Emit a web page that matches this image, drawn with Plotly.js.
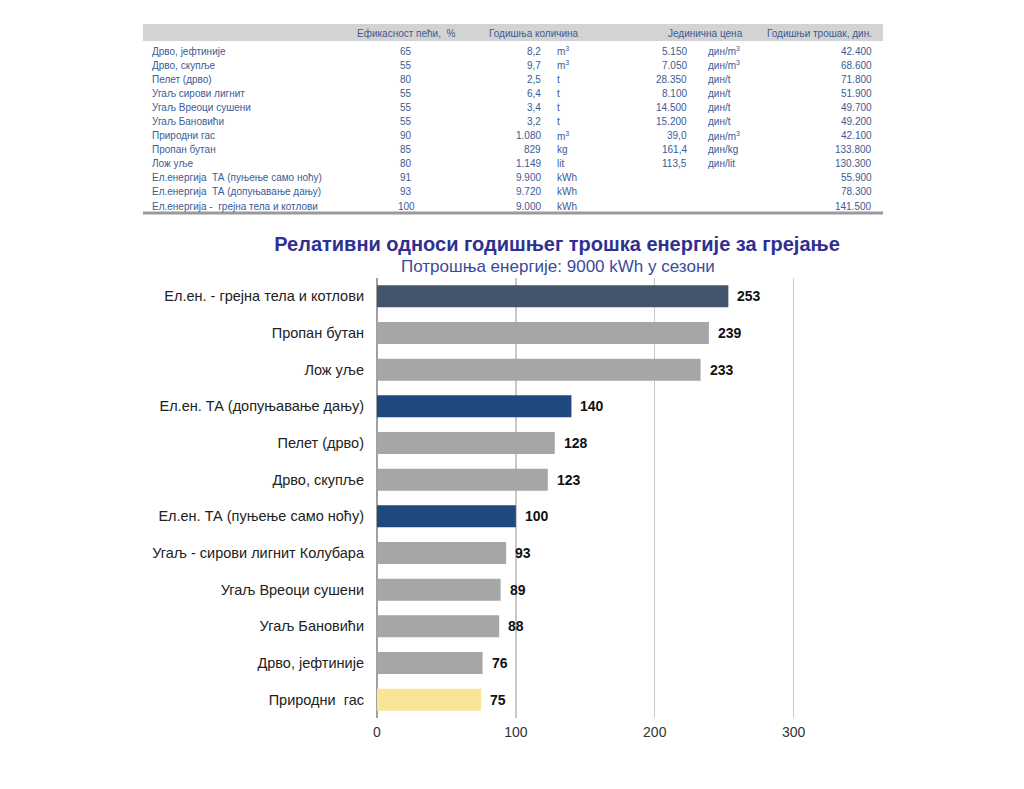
<!DOCTYPE html>
<html>
<head>
<meta charset="utf-8">
<script src="https://cdn.plot.ly/plotly-3.0.1.min.js"></script>
<style>html,body{margin:0;padding:0;background:#fff;}#chart{width:1024px;height:789px;}</style>
</head>
<body>
<div id="chart"></div>
<script>
// ---------- table data ----------
const tableHeaders = ['Ефикасност пећи,  %', 'Годишња количина', 'Јединична цена', 'Годишњи трошак, дин.'];
const tableNames = ['Дрво, јефтиније','Дрво, скупље','Пелет (дрво)','Угаљ сирови лигнит','Угаљ Вреоци сушени','Угаљ Бановићи','Природни гас','Пропан бутан','Лож уље','Ел.енергија  ТА (пуњење само ноћу)','Ел.енергија  ТА (допуњавање дању)','Ел.енергија -  грејна тела и котлови'];
const tableEff = [65,55,80,55,55,55,90,85,80,91,93,100];
const tableQty = ['8,2','9,7','2,5','6,4','3,4','3,2','1.080','829','1.149','9.900','9.720','9.000'];
const tableQtyUnit = ['m<sup>3</sup>','m<sup>3</sup>','t','t','t','t','m<sup>3</sup>','kg','lit','kWh','kWh','kWh'];
const tablePrice = ['5.150','7.050','28.350','8.100','14.500','15.200','39,0','161,4','113,5','','',''];
const tablePriceUnit = ['дин/m<sup>3</sup>','дин/m<sup>3</sup>','дин/t','дин/t','дин/t','дин/t','дин/m<sup>3</sup>','дин/kg','дин/lit','','',''];
const tableCost = ['42.400','68.600','71.800','51.900','49.700','49.200','42.100','133.800','130.300','55.900','78.300','141.500'];

// ---------- chart data ----------
const chartTitle = 'Релативни односи годишњег трошка енергије за грејање';
const chartSubtitle = 'Потрошња енергије: 9000 kWh у сезони';
const categories = ['Ел.ен. - грејна тела и котлови','Пропан бутан','Лож уље','Ел.ен. ТА (допуњавање дању)','Пелет (дрво)','Дрво, скупље','Ел.ен. ТА (пуњење само ноћу)','Угаљ - сирови лигнит Колубара','Угаљ Вреоци сушени','Угаљ Бановићи','Дрво, јефтиније','Природни  гас'];
const values = [253,239,233,140,128,123,100,93,89,88,76,75];
const xTicks = [0,100,200,300];

// ---------- layout geometry ----------
const W = 1024, H = 789;
const M = {l: 377, r: 229, t: 278, b: 71};
const PW = W - M.l - M.r, PH = H - M.t - M.b;
const px = x => (x - M.l) / PW;
const py = y => 1 - (y - M.t) / PH;

function barColor(name) {
  if (name.indexOf('грејна тела') >= 0) return '#44546a';
  if (name.indexOf('ТА') >= 0) return '#1f497d';
  if (name.indexOf('Природни') >= 0) return '#f9e596';
  return '#a6a6a6';
}

const tblFont = {family: '"Liberation Sans", Arial, sans-serif', size: 10, color: '#3b5b96'};
const annotations = [];
function ann(text, x, y, anchor) {
  annotations.push({text: text, xref: 'paper', yref: 'paper', x: px(x), y: py(y),
    xanchor: anchor, yanchor: 'middle', showarrow: false, font: tblFont});
}
// header
const headerY = 33;
ann(tableHeaders[0], 406, headerY, 'center');
ann(tableHeaders[1], 534, headerY, 'center');
ann(tableHeaders[2], 705, headerY, 'center');
ann(tableHeaders[3], 874, headerY, 'right');
// rows
tableNames.forEach((n, i) => {
  const y = 51 + i * 14.1;
  ann(n, 150, y, 'left');
  ann(String(tableEff[i]), 406, y, 'center');
  ann(tableQty[i], 543, y, 'right');
  ann(tableQtyUnit[i], 555, y, 'left');
  if (tablePrice[i]) ann(tablePrice[i], 689, y, 'right');
  if (tablePriceUnit[i]) ann(tablePriceUnit[i], 706, y, 'left');
  ann(tableCost[i], 874, y, 'right');
});
// subtitle
annotations.push({text: chartSubtitle, xref: 'paper', yref: 'paper', x: px(558), y: py(266),
  xanchor: 'center', yanchor: 'middle', showarrow: false,
  font: {family: '"Liberation Sans", Arial, sans-serif', size: 17, color: '#3a4a9c'}});
// bar value labels (data coordinates)
values.forEach((v, i) => {
  annotations.push({text: '<b>' + v + '</b>', xref: 'x', yref: 'y', x: v, y: categories[i],
    xanchor: 'left', yanchor: 'middle', xshift: 7, showarrow: false,
    font: {family: '"Liberation Sans", Arial, sans-serif', size: 14, color: '#111'}});
});

const shapes = [
  {type: 'rect', xref: 'paper', yref: 'paper', x0: px(143), x1: px(883), y0: py(41), y1: py(24),
   fillcolor: '#d3d3d3', line: {width: 0}, layer: 'below'},
  {type: 'line', xref: 'paper', yref: 'paper', x0: px(143), x1: px(883), y0: py(213), y1: py(213),
   line: {color: '#9a9a9a', width: 3}}
];

const trace = {
  type: 'bar', orientation: 'h',
  x: values, y: categories,
  marker: {color: categories.map(barColor), line: {width: 0}},
  width: 0.6,
  hoverinfo: 'x+y'
};

const layout = {
  width: W, height: H,
  margin: M,
  paper_bgcolor: '#fff', plot_bgcolor: '#fff',
  showlegend: false,
  title: {text: '<b>' + chartTitle + '</b>', x: 557 / W, y: 1 - 244 / H, xanchor: 'center', yanchor: 'middle',
    xref: 'container', yref: 'container',
    font: {family: '"Liberation Sans", Arial, sans-serif', size: 20, color: '#2e3192'}},
  xaxis: {range: [0, 301], tickvals: xTicks, showgrid: true, gridcolor: '#c8c8c8', gridwidth: 1.5,
    zeroline: true, zerolinecolor: '#a0a0a0', zerolinewidth: 1.5, showline: false, ticks: '',
    tickfont: {family: '"Liberation Sans", Arial, sans-serif', size: 14, color: '#333'}, ticklabelstandoff: 4},
  yaxis: {autorange: 'reversed', type: 'category', showgrid: false, zeroline: false, showline: false,
    ticks: '', ticklabelstandoff: 12,
    tickfont: {family: '"Liberation Sans", Arial, sans-serif', size: 14.5, color: '#222'}},
  annotations: annotations,
  shapes: shapes,
  bargap: 0.4
};

Plotly.newPlot('chart', [trace], layout, {displayModeBar: false, staticPlot: true});
</script>
</body>
</html>
